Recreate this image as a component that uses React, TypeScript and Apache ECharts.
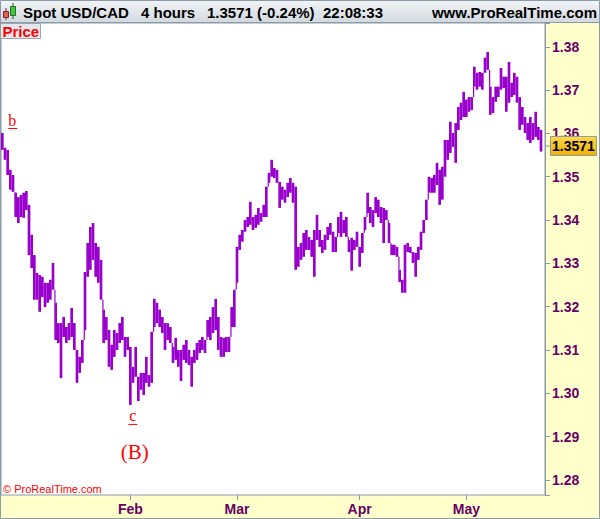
import React, { useEffect, useRef } from 'react';
import * as echarts from 'echarts';

// Half-day high/low ranges of Spot USD/CAD
const highs = [
  1.3601, 1.3567, 1.3562, 1.3516, 1.3504, 1.3463, 1.3453, 1.3458, 1.3463, 1.3467,
  1.3435, 1.3366, 1.3319, 1.3278, 1.3273, 1.3269, 1.3255, 1.3255, 1.3262, 1.3301,
  1.3209, 1.3162, 1.3162, 1.3176, 1.3153, 1.3162, 1.3197, 1.3162, 1.3100, 1.3084,
  1.3123, 1.3280, 1.3347, 1.3384, 1.3393, 1.3347, 1.3338, 1.3308, 1.3193, 1.3176,
  1.3146, 1.3112, 1.3146, 1.3139, 1.3162, 1.3176, 1.3130, 1.3130, 1.3107, 1.3061,
  1.3107, 1.3038, 1.3047, 1.3047, 1.3084, 1.3042, 1.3142, 1.3218, 1.3209, 1.3193,
  1.3176, 1.3162, 1.3162, 1.3153, 1.3107, 1.3128, 1.3100, 1.3100, 1.3112, 1.3123,
  1.3100, 1.3084, 1.3100, 1.3116, 1.3123, 1.3130, 1.3123, 1.3169, 1.3176, 1.3199,
  1.3218, 1.3176, 1.3130, 1.3128, 1.3130, 1.3130, 1.3199, 1.3239, 1.3338, 1.3366,
  1.3377, 1.3400, 1.3407, 1.3442, 1.3407, 1.3412, 1.3428, 1.3416, 1.3435, 1.3477,
  1.3509, 1.3539, 1.3520, 1.3516, 1.3488, 1.3477, 1.3470, 1.3486, 1.3497, 1.3486,
  1.3477, 1.3338, 1.3347, 1.3370, 1.3377, 1.3361, 1.3354, 1.3377, 1.3412, 1.3377,
  1.3354, 1.3366, 1.3384, 1.3393, 1.3373, 1.3361, 1.3407, 1.3419, 1.3400, 1.3407,
  1.3354, 1.3359, 1.3354, 1.3373, 1.3338, 1.3370, 1.3407, 1.3463, 1.3430, 1.3423,
  1.3453, 1.3447, 1.3430, 1.3428, 1.3423, 1.3393, 1.3343, 1.3343, 1.3338, 1.3285,
  1.3262, 1.3343, 1.3347, 1.3338, 1.3326, 1.3324, 1.3338, 1.3373, 1.3400, 1.3447,
  1.3500, 1.3497, 1.3504, 1.3532, 1.3516, 1.3523, 1.3585, 1.3585, 1.3627, 1.3601,
  1.3624, 1.3661, 1.3671, 1.3696, 1.3678, 1.3684, 1.3684, 1.3754, 1.3740, 1.3742,
  1.3740, 1.3775, 1.3788, 1.3708, 1.3684, 1.3708, 1.3708, 1.3751, 1.3731, 1.3731,
  1.3765, 1.3717, 1.3740, 1.3731, 1.3684, 1.3661, 1.3638, 1.3624, 1.3638, 1.3624,
  1.3650, 1.3615, 1.3608,
];

const lows = [
  1.3562, 1.3539, 1.3504, 1.3470, 1.3465, 1.3407, 1.3393, 1.3407, 1.3405, 1.3423,
  1.3319, 1.3289, 1.3216, 1.3216, 1.3188, 1.3222, 1.3199, 1.3209, 1.3216, 1.3239,
  1.3123, 1.3116, 1.3035, 1.3130, 1.3116, 1.3123, 1.3130, 1.3100, 1.3024, 1.3047,
  1.3070, 1.3146, 1.3269, 1.3285, 1.3308, 1.3269, 1.3255, 1.3216, 1.3116, 1.3123,
  1.3061, 1.3054, 1.3084, 1.3100, 1.3116, 1.3123, 1.3084, 1.3100, 1.2973, 1.3024,
  1.3038, 1.2982, 1.3008, 1.2996, 1.3024, 1.3015, 1.3024, 1.3153, 1.3162, 1.3153,
  1.3139, 1.3100, 1.3123, 1.3116, 1.3070, 1.3077, 1.3061, 1.3028, 1.3077, 1.3070,
  1.3065, 1.3015, 1.3070, 1.3077, 1.3093, 1.3100, 1.3093, 1.3130, 1.3123, 1.3139,
  1.3146, 1.3100, 1.3084, 1.3084, 1.3095, 1.3095, 1.3153, 1.3153, 1.3255, 1.3331,
  1.3350, 1.3373, 1.3384, 1.3389, 1.3377, 1.3382, 1.3389, 1.3396, 1.3407, 1.3407,
  1.3486, 1.3500, 1.3497, 1.3486, 1.3428, 1.3447, 1.3440, 1.3453, 1.3463, 1.3440,
  1.3285, 1.3292, 1.3308, 1.3315, 1.3331, 1.3331, 1.3315, 1.3269, 1.3354, 1.3338,
  1.3324, 1.3331, 1.3354, 1.3366, 1.3326, 1.3326, 1.3370, 1.3361, 1.3370, 1.3361,
  1.3326, 1.3283, 1.3331, 1.3338, 1.3292, 1.3324, 1.3377, 1.3416, 1.3393, 1.3384,
  1.3416, 1.3407, 1.3393, 1.3347, 1.3400, 1.3347, 1.3319, 1.3319, 1.3315, 1.3257,
  1.3232, 1.3232, 1.3326, 1.3324, 1.3301, 1.3269, 1.3308, 1.3331, 1.3370, 1.3400,
  1.3463, 1.3463, 1.3463, 1.3481, 1.3435, 1.3447, 1.3500, 1.3539, 1.3555, 1.3569,
  1.3532, 1.3608, 1.3631, 1.3638, 1.3638, 1.3650, 1.3654, 1.3708, 1.3701, 1.3708,
  1.3701, 1.3740, 1.3747, 1.3643, 1.3647, 1.3673, 1.3684, 1.3701, 1.3705, 1.3650,
  1.3671, 1.3684, 1.3689, 1.3671, 1.3608, 1.3620, 1.3601, 1.3585, 1.3578, 1.3585,
  1.3592, 1.3585, 1.3558,
];

const monthLabels = ['Feb', 'Mar', 'Apr', 'May'];
const monthStarts = [48, 88, 134, 174];
const barSlots = 204;
const yMin = 1.2765;
const yMax = 1.3855;
const lastPrice = 1.3571;
const headerParts = ['Spot USD/CAD', '4 hours', '1.3571 (-0.24%)', '22:08:33'];
const siteText = 'www.ProRealTime.com';
const copyrightText = '\u00A9 ProRealTime.com';
const waveLabels = { b: 'b', c: 'c', B: '(B)' };

const SANS = '"Liberation Sans", Arial, sans-serif';
const SERIF = '"Liberation Serif", "Times New Roman", serif';
const PURPLE = '#9900CC';
const AXIS_TEXT = '#660066';
const FRAME = '#8B9BA8';

const categories = Array.from({ length: barSlots }, (_, i) => {
  const k = monthStarts.indexOf(i);
  return k >= 0 ? monthLabels[k] : '';
});

export default function App() {
  const ref = useRef<HTMLDivElement>(null);

  useEffect(() => {
    document.body.style.margin = '0';
    if (!ref.current) return;
    const chart = echarts.init(ref.current, undefined, { renderer: 'svg' });

    const isMonth = (i: number) => monthStarts.indexOf(i) >= 0;

    chart.setOption({
      animation: false,
      backgroundColor: '#FFFFCC',
      grid: {
        left: 1,
        right: 55,
        top: 23,
        bottom: 24,
        show: true,
        backgroundColor: '#FFFFFF',
        borderColor: FRAME,
        borderWidth: 1,
      },
      xAxis: {
        type: 'category',
        data: categories,
        boundaryGap: true,
        axisLine: { show: false },
        axisTick: {
          show: true,
          alignWithLabel: true,
          interval: (i: number) => isMonth(i),
          length: 5,
          lineStyle: { color: FRAME },
        },
        axisLabel: {
          interval: (i: number) => isMonth(i),
          color: AXIS_TEXT,
          fontWeight: 'bold',
          fontSize: 14,
          fontFamily: SANS,
          margin: 7,
        },
        splitLine: { show: false },
      },
      yAxis: {
        type: 'value',
        position: 'right',
        min: yMin,
        max: yMax,
        splitNumber: 11,
        minInterval: 0.01,
        maxInterval: 0.01,
        axisLine: { show: true, lineStyle: { color: FRAME } },
        axisTick: { show: true, length: 5, lineStyle: { color: FRAME } },
        axisLabel: {
          color: AXIS_TEXT,
          fontWeight: 'bold',
          fontSize: 14,
          fontFamily: SANS,
          margin: 7,
          formatter: (v: number) =>
            Math.abs(v * 100 - Math.round(v * 100)) < 1e-6 ? v.toFixed(2) : '',
        },
        splitLine: { show: false },
      },
      series: [
        {
          type: 'custom',
          clip: true,
          encode: { x: 0, y: [1, 2] },
          data: highs.map((h, i) => [i, lows[i], h]),
          renderItem: (params: any, api: any) => {
            const idx = api.value(0);
            const loV = api.value(1);
            const hiV = api.value(2);
            const lo = api.coord([idx, loV]);
            const hi = api.coord([idx, hiV]);
            const w = api.size([1, 0])[0];
            const left = lo[0] - w / 2;
            const children: any[] = [
              {
                type: 'rect',
                shape: { x: left, y: hi[1], width: w, height: Math.max(1, lo[1] - hi[1]) },
                style: { fill: PURPLE },
              },
            ];
            const p = params.dataIndexInside - 1;
            if (p >= 0) {
              const pLo = api.value(1, p);
              const pHi = api.value(2, p);
              let a: number | null = null;
              let b: number | null = null;
              if (pLo > hiV) { a = pLo; b = hiV; }
              else if (pHi < loV) { a = loV; b = pHi; }
              if (a !== null && b !== null) {
                const ya = api.coord([idx, a])[1];
                const yb = api.coord([idx, b])[1];
                children.push({
                  type: 'rect',
                  shape: { x: left, y: ya, width: 1.2, height: yb - ya },
                  style: { fill: PURPLE },
                });
              }
            }
            return { type: 'group', children };
          },
        },
      ],
    });

    const py = chart.convertToPixel({ yAxisIndex: 0 }, lastPrice) as number;
    const bPt = chart.convertToPixel({ gridIndex: 0 }, [0, highs[0]]) as number[];
    const cPt = chart.convertToPixel({ gridIndex: 0 }, [48, lows[48]]) as number[];

    const headerGrad = new echarts.graphic.LinearGradient(0, 0, 0, 1, [
      { offset: 0, color: '#F3F6F8' },
      { offset: 1, color: '#D2D9DF' },
    ]);
    const tagGrad = new echarts.graphic.LinearGradient(0, 0, 0, 1, [
      { offset: 0, color: '#FFD84A' },
      { offset: 1, color: '#F2B000' },
    ]);
    const headerX = [23, 141, 207, 323];

    chart.setOption({
      graphic: [
        // header bar
        { type: 'rect', z: 100, shape: { x: 0, y: 0, width: 600, height: 22 }, style: { fill: headerGrad } },
        { type: 'line', z: 101, shape: { x1: 0, y1: 22.5, x2: 600, y2: 22.5 }, style: { stroke: FRAME, lineWidth: 1 } },
        // candle icon
        { type: 'line', z: 101, shape: { x1: 6, y1: 8, x2: 6, y2: 20 }, style: { stroke: '#6B2020', lineWidth: 1 } },
        { type: 'rect', z: 102, shape: { x: 3.5, y: 11.5, width: 5, height: 6 }, style: { fill: '#E35B5B', stroke: '#7A2A2A', lineWidth: 1 } },
        { type: 'line', z: 101, shape: { x1: 13, y1: 3, x2: 13, y2: 19 }, style: { stroke: '#1F5A1F', lineWidth: 1 } },
        { type: 'rect', z: 102, shape: { x: 10.5, y: 6.5, width: 5, height: 9 }, style: { fill: '#3CCB3C', stroke: '#2A6A2A', lineWidth: 1 } },
        ...headerParts.map((t, i) => ({
          type: 'text',
          z: 103,
          style: { text: t, x: headerX[i], y: 12, font: `bold 15px ${SANS}`, fill: '#000000', textAlign: 'left', textVerticalAlign: 'middle' },
        })),
        {
          type: 'text',
          z: 103,
          style: { text: siteText, x: 597, y: 12, font: `bold 15px ${SANS}`, fill: '#000000', textAlign: 'right', textVerticalAlign: 'middle' },
        },
        // Price tab
        { type: 'rect', z: 100, shape: { x: 0.5, y: 23.5, width: 40, height: 15 }, style: { fill: '#E4E8EC', stroke: '#9AA6B0', lineWidth: 1 } },
        {
          type: 'text',
          z: 101,
          style: { text: 'Price', x: 2.5, y: 31.5, font: `bold 15px ${SANS}`, fill: '#FF0000', textAlign: 'left', textVerticalAlign: 'middle' },
        },
        // copyright
        {
          type: 'text',
          z: 101,
          style: { text: copyrightText, x: 3, y: 489, font: `11px ${SANS}`, fill: '#FF0000', textAlign: 'left', textVerticalAlign: 'middle' },
        },
        // last price tag on the axis
        { type: 'line', z: 101, shape: { x1: 545, y1: py, x2: 550, y2: py }, style: { stroke: FRAME, lineWidth: 1 } },
        { type: 'rect', z: 102, shape: { x: 550.5, y: py - 9.5, width: 46, height: 19 }, style: { fill: tagGrad, stroke: '#8E9AA4', lineWidth: 1 } },
        {
          type: 'text',
          z: 103,
          style: { text: lastPrice.toFixed(4), x: 573.5, y: py + 0.5, font: `bold 14px ${SANS}`, fill: '#000000', textAlign: 'center', textVerticalAlign: 'middle' },
        },
        // wave labels
        {
          type: 'text',
          z: 101,
          style: { text: waveLabels.b, x: bPt[0] + 10, y: bPt[1] - 12, font: `16px ${SERIF}`, fill: '#FF0000', textAlign: 'center', textVerticalAlign: 'middle' },
        },
        { type: 'line', z: 101, shape: { x1: bPt[0] + 6, y1: bPt[1] - 4.5, x2: bPt[0] + 15, y2: bPt[1] - 4.5 }, style: { stroke: '#FF0000', lineWidth: 1 } },
        {
          type: 'text',
          z: 101,
          style: { text: waveLabels.c, x: cPt[0] + 2.5, y: cPt[1] + 11, font: `16px ${SERIF}`, fill: '#FF0000', textAlign: 'center', textVerticalAlign: 'middle' },
        },
        { type: 'line', z: 101, shape: { x1: cPt[0] - 2, x2: cPt[0] + 7, y1: cPt[1] + 19.5, y2: cPt[1] + 19.5 }, style: { stroke: '#FF0000', lineWidth: 1 } },
        {
          type: 'text',
          z: 101,
          style: { text: waveLabels.B, x: cPt[0] + 4.5, y: cPt[1] + 47, font: `21px ${SERIF}`, fill: '#FF0000', textAlign: 'center', textVerticalAlign: 'middle' },
        },
        // outer frame
        { type: 'rect', z: 104, shape: { x: 0.5, y: 0.5, width: 599, height: 518 }, style: { fill: 'none', stroke: FRAME, lineWidth: 1 } },
      ],
    });

    return () => chart.dispose();
  }, []);

  return <div ref={ref} style={{ width: 600, height: 519 }} />;
}
